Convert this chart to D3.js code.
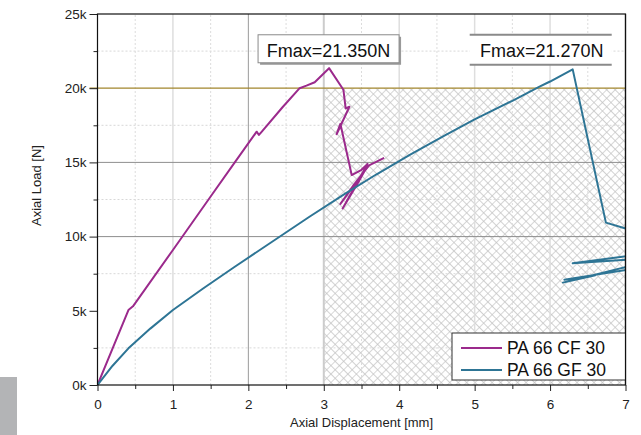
<!DOCTYPE html>
<html><head><meta charset="utf-8">
<script src="https://cdn.jsdelivr.net/npm/d3@7"></script>
<style>
body{margin:0;background:#fff}
svg{display:block;font-family:"Liberation Sans",Arial,sans-serif}
</style>
</head><body>
<svg id="chart" width="641" height="435"></svg>
<script>
// Load–displacement curves (displacement in mm, load in N)
const cfDisp = [0, 0.41, 0.47, 1.0, 1.5, 1.82, 2.11, 2.14, 2.17, 2.45, 2.68, 2.77, 2.88, 3.07, 3.26, 3.29, 3.34, 3.17, 3.22, 3.37, 3.50, 3.58, 3.25, 3.45, 3.55, 3.22, 3.40, 3.60, 3.80];
const cfLoad = [0, 5050, 5300, 9100, 12700, 15000, 17070, 16850, 17030, 18700, 20000, 20170, 20400, 21350, 19900, 18640, 18750, 16900, 17600, 14150, 14500, 14900, 11900, 13600, 14500, 12200, 13500, 14800, 15300];

const gfDisp = [0, 0.2, 0.41, 0.7, 1.0, 1.4, 1.82, 2.3, 2.81, 3.3, 3.7, 4.14, 4.6, 5.0, 5.5, 5.86, 6.0, 6.30, 6.74, 6.99, 7.20, 7.20, 6.30, 7.20, 7.20, 6.17, 6.60, 6.19, 7.20];
const gfLoad = [0, 1300, 2470, 3800, 5050, 6500, 7970, 9600, 11340, 12950, 14200, 15500, 16800, 17900, 19150, 20100, 20450, 21270, 10940, 10560, 10300, 8800, 8200, 8500, 8200, 6900, 7400, 7100, 7900];

const seriesNames = ["PA 66 CF 30", "PA 66 GF 30"];
const seriesColors = ["#9b2a8c", "#2e7595"];

const xMajor = [0, 1, 2, 3, 4, 5, 6, 7];
const xMinor = [0.5, 1.5, 2.5, 3.5, 4.5, 5.5, 6.5];
const yMajor = [0, 5000, 10000, 15000, 20000, 25000];
const yMinor = [2500, 7500, 12500, 17500, 22500];

// Limit band: displacement >= 3 mm, load <= 20 kN
const limitDisp = 3, limitLoad = 20000;
const peakLabels = ["Fmax=21.350N", "Fmax=21.270N"];

const svg = d3.select("#chart");
const x = d3.scaleLinear().domain([0, 7]).range([97.5, 625.5]);
const y = d3.scaleLinear().domain([0, 25000]).range([385, 14]);
const [x0, x1] = x.range(), [y0, y1] = y.range();

const defs = svg.append("defs");
const pat = defs.append("pattern").attr("id", "hatch")
  .attr("patternUnits", "userSpaceOnUse").attr("width", 6).attr("height", 6)
  .attr("patternTransform", "rotate(45)");
pat.append("path").attr("d", "M0,0H6M0,0V6").attr("stroke", "#c2c2c2").attr("stroke-width", 1.3);
defs.append("clipPath").attr("id", "plot").append("rect")
  .attr("x", x0).attr("y", y1).attr("width", x1 - x0).attr("height", y0 - y1);

// gray marker block at lower-left
svg.append("rect").attr("x", 0).attr("y", 377).attr("width", 17).attr("height", 58).attr("fill", "#b3b4b6");

// hatched band
svg.append("rect").attr("x", x(limitDisp)).attr("y", y(limitLoad))
  .attr("width", x(7) - x(limitDisp)).attr("height", y(0) - y(limitLoad))
  .attr("fill", "url(#hatch)");

// grid
const grid = svg.append("g");
yMinor.forEach(v => grid.append("line").attr("x1", x0).attr("x2", x1).attr("y1", y(v)).attr("y2", y(v))
  .attr("stroke", "#d8d8d8").attr("stroke-dasharray", "2,2"));
xMinor.forEach(v => grid.append("line").attr("x1", x(v)).attr("x2", x(v)).attr("y1", y0).attr("y2", y1)
  .attr("stroke", "#dcdcdc").attr("stroke-dasharray", "2,2"));
[1, 4, 5, 6].forEach(v => grid.append("line").attr("x1", x(v)).attr("x2", x(v)).attr("y1", y0).attr("y2", y1)
  .attr("stroke", "#dedede").attr("stroke-width", 1.5));
grid.append("line").attr("x1", x(2)).attr("x2", x(2)).attr("y1", y0).attr("y2", y1).attr("stroke", "#9a9a9a");
grid.append("line").attr("x1", x(limitDisp)).attr("x2", x(limitDisp)).attr("y1", y0).attr("y2", y1)
  .attr("stroke", "#cccccc").attr("stroke-width", 2);
[10000, 15000].forEach(v => grid.append("line").attr("x1", x0).attr("x2", x1).attr("y1", y(v)).attr("y2", y(v))
  .attr("stroke", "#8e8e8e"));
grid.append("line").attr("x1", x0 - 8).attr("x2", x1).attr("y1", y(limitLoad)).attr("y2", y(limitLoad))
  .attr("stroke", "#a2862c").attr("stroke-width", 1.2);

// curves
const line = d3.line().x(d => x(d[0])).y(d => y(d[1]));
const curves = [d3.zip(cfDisp, cfLoad), d3.zip(gfDisp, gfLoad)];
const plotG = svg.append("g").attr("clip-path", "url(#plot)");
curves.forEach((pts, i) => plotG.append("path").attr("d", line(pts)).attr("fill", "none")
  .attr("stroke", seriesColors[i]).attr("stroke-width", 2).attr("stroke-linejoin", "round"));

// axes
svg.append("g").attr("transform", `translate(${x0},0)`)
  .call(d3.axisLeft(y).tickValues(yMajor).tickSize(8).tickPadding(3).tickFormat(d => d / 1000 + "k"));
svg.append("g").attr("transform", `translate(${x0},0)`)
  .call(d3.axisLeft(y).tickValues(yMinor).tickSize(4).tickFormat(""));
svg.append("g").attr("transform", `translate(0,${y0})`)
  .call(d3.axisBottom(x).tickValues(xMajor).tickSize(6).tickPadding(8).tickFormat(d3.format("d")));
svg.append("g").attr("transform", `translate(0,${y0})`)
  .call(d3.axisBottom(x).tickValues(xMinor).tickSize(4).tickFormat(""));
svg.selectAll(".tick line").attr("stroke", "#222");
svg.selectAll(".tick text").attr("font-size", 13.5).attr("fill", "#222")
  .attr("font-family", '"Liberation Sans",Arial,sans-serif');
svg.selectAll(".domain").remove();

// frame
svg.append("rect").attr("x", x0).attr("y", y1).attr("width", x1 - x0).attr("height", y0 - y1)
  .attr("fill", "none").attr("stroke", "#111").attr("stroke-width", 1.2);

// axis titles
svg.append("text").attr("x", (x0 + x1) / 2).attr("y", 427).attr("text-anchor", "middle")
  .attr("font-size", 13).attr("fill", "#222").text("Axial Displacement [mm]");
svg.append("text").attr("transform", `translate(41,${(y0 + y1) / 2 - 14}) rotate(-90)`)
  .attr("text-anchor", "middle").attr("font-size", 13).attr("fill", "#222").text("Axial Load [N]");

// peak annotations
const cfPeak = d3.maxIndex(cfLoad), gfPeak = d3.maxIndex(gfLoad);
const boxTop = y(23600), boxH = 28;
const b1x = x(cfDisp[cfPeak]) - 71, b1w = 141;
svg.append("rect").attr("x", b1x + 2).attr("y", boxTop + 2).attr("width", b1w).attr("height", boxH).attr("fill", "#9a9a9a");
svg.append("rect").attr("x", b1x).attr("y", boxTop).attr("width", b1w).attr("height", boxH)
  .attr("fill", "#fff").attr("stroke", "#8a8a8a");
svg.append("text").attr("x", b1x + b1w / 2).attr("y", boxTop + 22).attr("text-anchor", "middle")
  .attr("font-size", 18).attr("fill", "#111").text(peakLabels[0]);

const b2x = x(gfDisp[gfPeak]) - 103, b2w = 142;
svg.append("rect").attr("x", b2x).attr("y", boxTop).attr("width", b2w).attr("height", boxH + 2).attr("fill", "#fff");
[boxTop, boxTop + boxH + 2].forEach(v => svg.append("line").attr("x1", b2x).attr("x2", b2x + b2w)
  .attr("y1", v).attr("y2", v).attr("stroke", "#8a8a8a").attr("stroke-width", 2));
svg.append("text").attr("x", b2x + b2w / 2 + 1).attr("y", boxTop + 22).attr("text-anchor", "middle")
  .attr("font-size", 18).attr("fill", "#111").text(peakLabels[1]);

// legend
const lg = svg.append("g");
lg.append("rect").attr("x", 452).attr("y", 333).attr("width", x1 - 452).attr("height", 47)
  .attr("fill", "#fff").attr("stroke", "#333");
seriesNames.forEach((n, i) => {
  const ly = 348 + i * 22;
  lg.append("line").attr("x1", 461).attr("x2", 502).attr("y1", ly).attr("y2", ly)
    .attr("stroke", seriesColors[i]).attr("stroke-width", 2);
  lg.append("text").attr("x", 507).attr("y", ly + 6).attr("font-size", 17.5).attr("fill", "#111").text(n);
});
svg.append("line").attr("x1", x1).attr("x2", x1).attr("y1", y1).attr("y2", y0).attr("stroke", "#111").attr("stroke-width", 1.2);
</script>
</body></html>
